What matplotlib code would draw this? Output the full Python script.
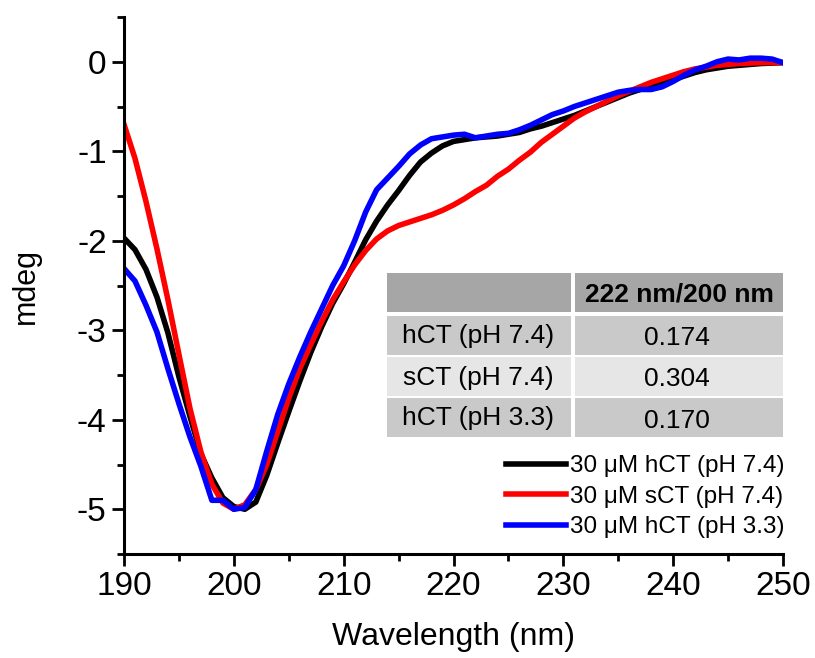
import matplotlib
matplotlib.use("Agg")
import matplotlib.pyplot as plt
from matplotlib.patches import Rectangle
from matplotlib.ticker import MultipleLocator

plt.rcParams['font.family'] = ['Liberation Sans', 'DejaVu Sans']
plt.rcParams['axes.unicode_minus'] = False

# wavelength grid (nm)
wl = list(range(190, 251))

# 30 uM hCT (pH 7.4)
hct74 = [-1.97, -2.10, -2.32, -2.63, -3.03, -3.52, -3.96, -4.38, -4.65, -4.87,
         -4.97, -5.00, -4.92, -4.62, -4.26, -3.91, -3.57, -3.25, -2.96, -2.70,
         -2.48, -2.24, -1.99, -1.78, -1.60, -1.44, -1.27, -1.12, -1.02, -0.94,
         -0.89, -0.87, -0.85, -0.84, -0.83, -0.81, -0.79, -0.75, -0.72, -0.68,
         -0.64, -0.60, -0.55, -0.50, -0.45, -0.40, -0.35, -0.31, -0.27, -0.24,
         -0.20, -0.16, -0.12, -0.09, -0.07, -0.05, -0.04, -0.03, -0.02, -0.015,
         -0.01]

# 30 uM sCT (pH 7.4)
sct74 = [-0.70, -1.08, -1.56, -2.09, -2.66, -3.27, -3.87, -4.36, -4.72, -4.93,
         -5.00, -4.95, -4.78, -4.50, -4.13, -3.76, -3.43, -3.16, -2.90, -2.66,
         -2.46, -2.27, -2.11, -1.98, -1.89, -1.83, -1.79, -1.75, -1.71, -1.66,
         -1.60, -1.53, -1.45, -1.38, -1.28, -1.20, -1.10, -1.01, -0.90, -0.81,
         -0.72, -0.63, -0.56, -0.50, -0.44, -0.38, -0.33, -0.28, -0.23, -0.19,
         -0.15, -0.11, -0.08, -0.06, -0.04, -0.03, -0.02, -0.015, -0.01, -0.01,
         -0.01]

# 30 uM hCT (pH 3.3)
hct33 = [-2.31, -2.45, -2.72, -3.02, -3.43, -3.82, -4.19, -4.52, -4.90, -4.90,
         -5.00, -4.98, -4.78, -4.35, -3.94, -3.60, -3.30, -3.02, -2.76, -2.50,
         -2.28, -2.00, -1.68, -1.43, -1.30, -1.17, -1.03, -0.93, -0.86, -0.84,
         -0.82, -0.81, -0.85, -0.83, -0.81, -0.80, -0.76, -0.71, -0.65, -0.59,
         -0.55, -0.50, -0.46, -0.42, -0.38, -0.34, -0.32, -0.31, -0.31, -0.28,
         -0.22, -0.15, -0.09, -0.05, 0.00, 0.03, 0.02, 0.04, 0.04, 0.03,
         -0.01]

labels = ['30 \u03bcM hCT (pH 7.4)', '30 \u03bcM sCT (pH 7.4)', '30 \u03bcM hCT (pH 3.3)']
colors = ['black', 'red', 'blue']

table_header = '222 nm/200 nm'
table_rows = ['hCT (pH 7.4)', 'sCT (pH 7.4)', 'hCT (pH 3.3)']
table_vals = ['0.174', '0.304', '0.170']
row_colors = ['#c9c9c9', '#e6e6e6', '#c9c9c9']

W, H = 815, 658
fig = plt.figure(figsize=(W / 100, H / 100), dpi=100)
ax = fig.add_axes([124 / W, 1 - 554 / H, (783 - 124) / W, (554 - 17) / H])

for y, c, lab in zip([hct74, sct74, hct33], colors, labels):
    ax.plot(wl, y, color=c, lw=4, label=lab, solid_joinstyle='round')

ax.set_xlim(190, 250)
ax.set_ylim(-5.5, 0.5)
ax.xaxis.set_major_locator(MultipleLocator(10))
ax.xaxis.set_minor_locator(MultipleLocator(5))
ax.yaxis.set_major_locator(MultipleLocator(1))
ax.yaxis.set_minor_locator(MultipleLocator(0.5))
ax.spines['top'].set_visible(False)
ax.spines['right'].set_visible(False)
for s in ['left', 'bottom']:
    ax.spines[s].set_linewidth(2.2)
ax.tick_params(which='major', direction='out', length=8.5, width=2, labelsize=24, pad=4)
ax.tick_params(which='minor', direction='out', length=5, width=2)
ax.set_xlabel('Wavelength (nm)', fontsize=23, labelpad=14)
ax.set_ylabel('mdeg', fontsize=22, labelpad=26)

leg = ax.legend(loc='upper right', bbox_to_anchor=(785 / W, 1 - 455 / H),
                bbox_transform=fig.transFigure, frameon=False, fontsize=17.5,
                handlelength=2.45, handletextpad=0.2, labelspacing=0.35,
                borderpad=0, borderaxespad=0)

# inset table drawn in figure pixels
def fx(px):
    return px / W

def fy(py):
    return 1 - py / H

row_edges = [(273, 312), (316, 355), (357, 396), (398, 437)]
col_edges = [(387, 571), (575, 783)]
for (r0, r1), col in zip(row_edges, ['#a6a6a6'] + row_colors):
    for (c0, c1) in col_edges:
        fig.patches.append(Rectangle((fx(c0), fy(r1)), fx(c1) - fx(c0), fy(r0) - fy(r1),
                                     transform=fig.transFigure, color=col, lw=0, zorder=5))

ccol1 = (col_edges[0][0] + col_edges[0][1]) / 2
ccol2 = (col_edges[1][0] + col_edges[1][1]) / 2
fig.text(fx(ccol2), fy(294), table_header, fontsize=19, fontweight='bold',
         ha='center', va='center', zorder=6)
for (r0, r1), lab, val in zip(row_edges[1:], table_rows, table_vals):
    fig.text(fx(ccol1 - 1), fy((r0 + r1) / 2 + 1), lab, fontsize=19, ha='center', va='center', zorder=6)
    fig.text(fx(ccol2 - 2), fy((r0 + r1) / 2 + 3), val, fontsize=19, ha='center', va='center', zorder=6)

fig.savefig('out.png', dpi=100)
